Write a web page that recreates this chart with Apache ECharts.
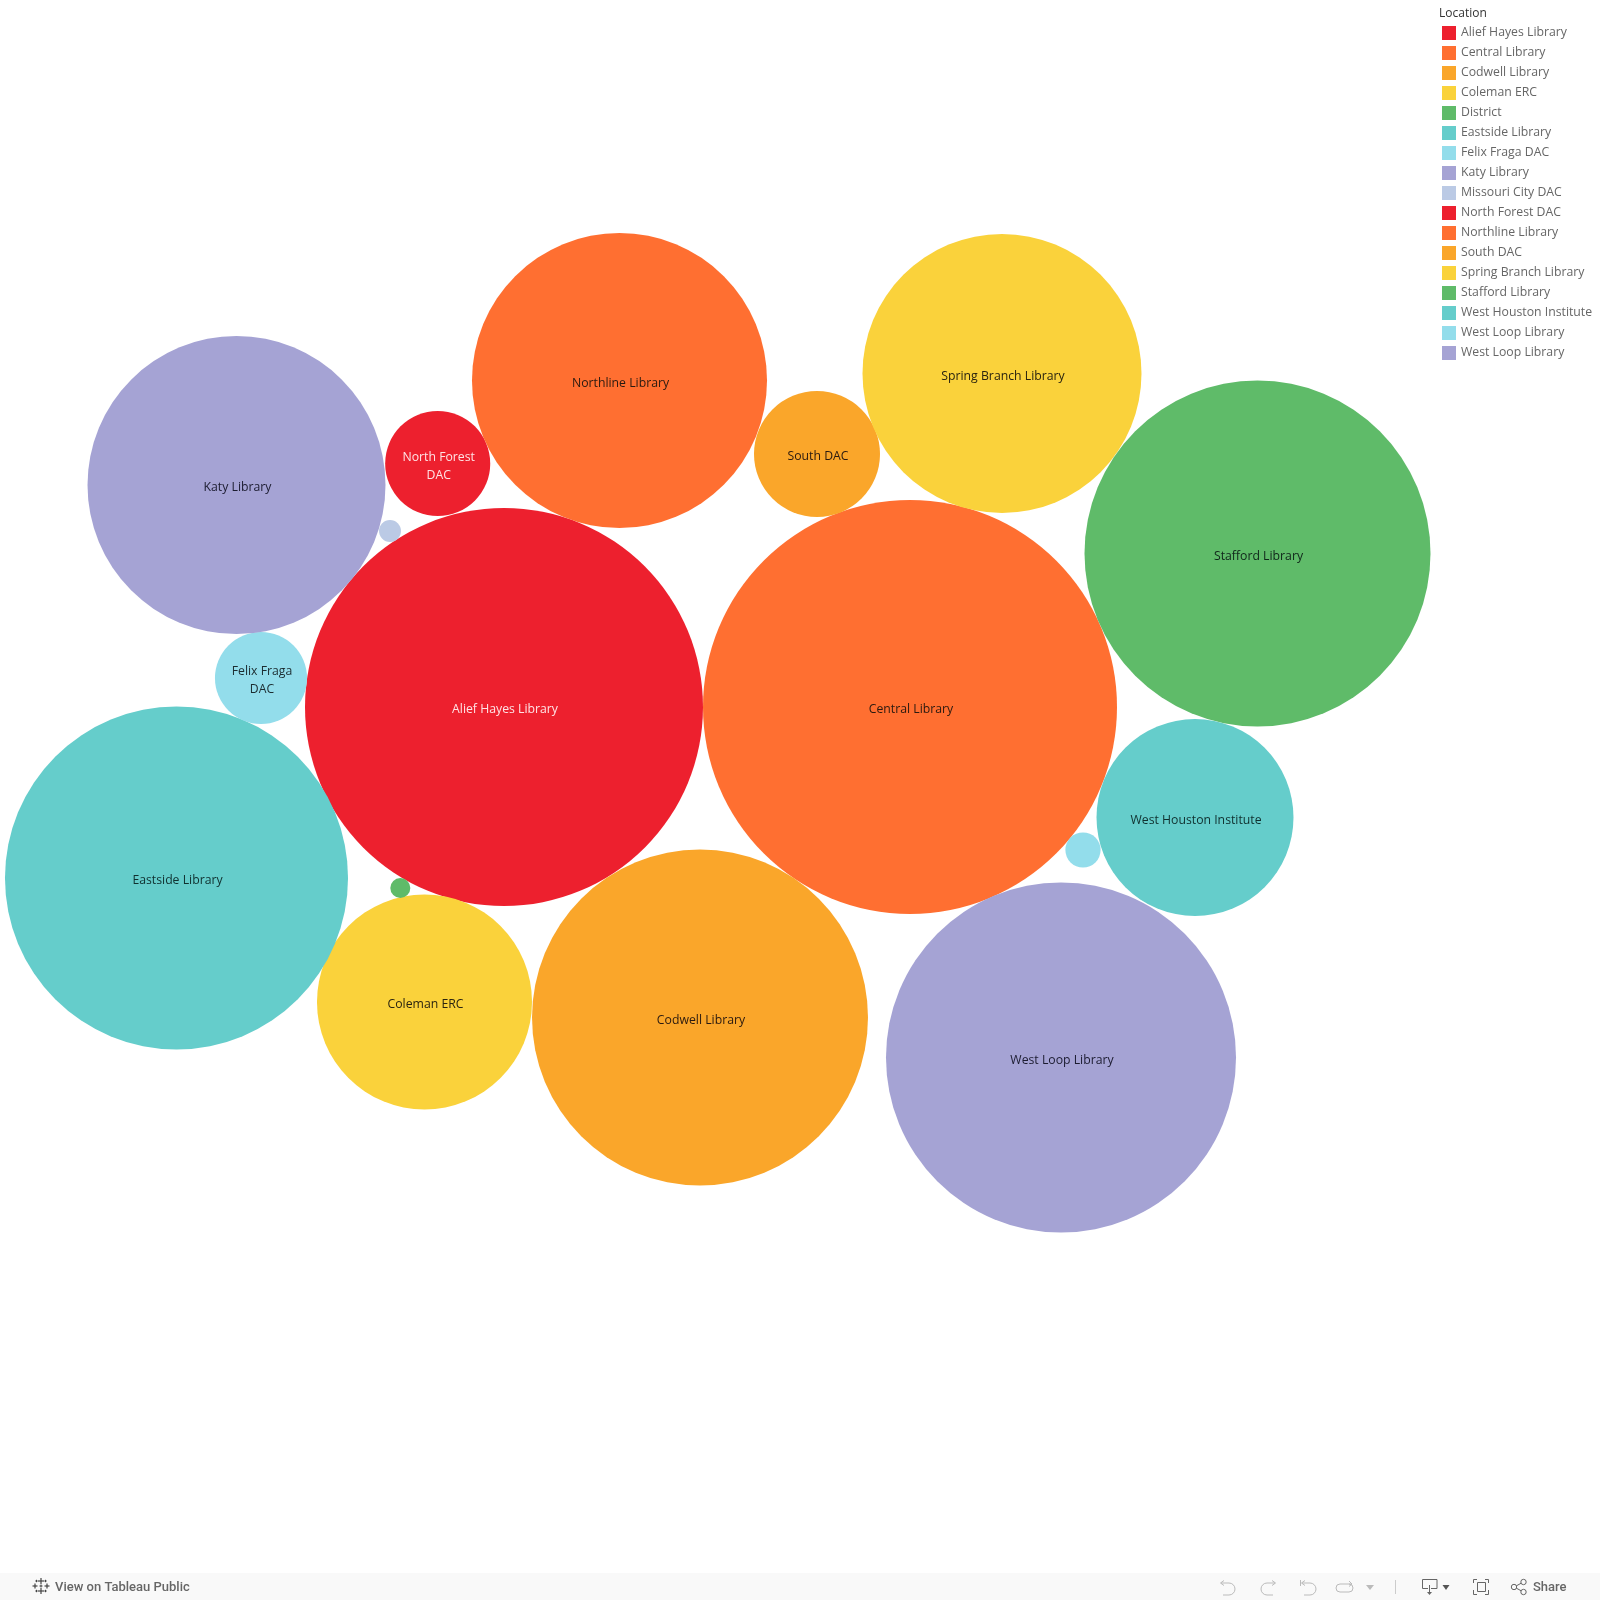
<!DOCTYPE html>
<html>
<head>
<meta charset="utf-8">
<style>html,body{margin:0;padding:0;background:#fff}#c{width:1600px;height:1600px}</style>
<script src="https://cdn.jsdelivr.net/npm/echarts@6/dist/echarts.min.js"></script>
</head>
<body>
<div id="c"></div>
<script>
const locations = ['Alief Hayes Library','Central Library','Codwell Library','Coleman ERC','District','Eastside Library','Felix Fraga DAC','Katy Library','Missouri City DAC','North Forest DAC','Northline Library','South DAC','Spring Branch Library','Stafford Library','West Houston Institute','West Loop Library','West Loop Library'];
const bubbleLabels = ['Alief Hayes Library','Central Library','Codwell Library','Coleman ERC','','Eastside Library','Felix Fraga\nDAC','Katy Library','','North Forest\nDAC','Northline Library','South DAC','Spring Branch Library','Stafford Library','West Houston Institute','','West Loop Library'];
const bubbleValues = [3960,4285,2822,1156,10,2942,212,2220,12,276,2176,397,1946,2993,970,31,3063];
const packX = [504,910,700,424.5,400.3,176.5,261,236.5,390,437.7,619.5,817,1002,1257.5,1195,1083,1061];
const packY = [707,707,1017.5,1002,888,878,678,485,531,463.5,380.5,454,373.5,553.5,817.5,850,1057.5];
const colors = ['#ED202E','#FF6F31','#FAA62A','#FAD23B','#5FBB69','#65CDCB','#93DDEB','#A5A3D4','#BBCAE5','#ED202E','#FF6F31','#FAA62A','#FAD23B','#5FBB69','#65CDCB','#93DDEB','#A5A3D4'];
const labelColors = ['#FFE3E5','#2a1a10','#2a1a10','#2a2410','#222','#10302f','#1c2c30','#1c1c30','#222','#FFE3E5','#2a1a10','#2a1a10','#2a2410','#10261a','#10302f','#222','#1c1c30'];
const FONT = '"Open Sans", sans-serif';

const series = locations.map((name, i) => ({
  type: 'scatter',
  name,
  silent: true,
  animation: false,
  symbol: 'circle',
  symbolSize: v => 2 * Math.sqrt(v[2] * 10),
  itemStyle: { color: colors[i], opacity: 1 },
  label: {
    show: bubbleLabels[i] !== '',
    position: 'inside',
    offset: [1, 3],
    formatter: () => bubbleLabels[i],
    color: labelColors[i],
    fontFamily: FONT,
    fontSize: 12.25,
    lineHeight: 18
  },
  data: [[packX[i], packY[i], bubbleValues[i]]]
}));

const lightGray = '#bbb';
const darkGray = '#666';
const line = (points, stroke, w) => ({ type: 'polyline', silent: true, shape: { points }, style: { fill: null, stroke, lineWidth: w || 1 } });
const tri = (points, fill) => ({ type: 'polygon', silent: true, shape: { points }, style: { fill } });
const arc = (cx, cy, r, a0, a1, stroke) => ({ type: 'arc', silent: true, shape: { cx, cy, r, startAngle: a0, endAngle: a1, clockwise: true }, style: { fill: null, stroke, lineWidth: 1 } });
const circ = (cx, cy, r, stroke) => ({ type: 'circle', silent: true, shape: { cx, cy, r }, style: { fill: null, stroke, lineWidth: 1 } });
const HALF = Math.PI / 2;
const plusMark = (x, y, s, w) => [line([[x, y - s], [x, y + s]], '#444', w), line([[x - s, y], [x + s, y]], '#444', w)];
const undoIcon = dx => [
  line([[1221 + dx, 1583], [1229 + dx, 1583]], lightGray),
  arc(1229 + dx, 1589, 6, -HALF, HALF, lightGray),
  line([[1229 + dx, 1595], [1223 + dx, 1595]], lightGray),
  line([[1224 + dx, 1580.5], [1220.5 + dx, 1583], [1224 + dx, 1585.5]], lightGray)
];
const legendText = { fontFamily: FONT, fontSize: 12.25, color: '#666', padding: [2, 0, 0, 0] };

const chart = echarts.init(document.getElementById('c'), null, { renderer: 'canvas' });
chart.setOption({
  animation: false,
  backgroundColor: '#fff',
  grid: { left: 0, right: 0, top: 0, bottom: 0 },
  xAxis: { type: 'value', min: 0, max: 1600, show: false },
  yAxis: { type: 'value', min: 0, max: 1600, inverse: true, show: false },
  tooltip: { show: false },
  title: {
    text: 'Location', left: 1439, top: 8, padding: 0,
    textStyle: { fontFamily: FONT, fontSize: 12, fontWeight: 'normal', color: '#333' }
  },
  legend: [
    {
      left: 1442, top: 26, orient: 'vertical', padding: 0, icon: 'rect',
      itemWidth: 14, itemHeight: 14, itemGap: 6, selectedMode: false,
      textStyle: legendText,
      data: locations.slice(0, 16).map((name, i) => ({ name, itemStyle: { color: colors[i] } }))
    },
    {
      left: 1442, top: 346, orient: 'vertical', padding: 0, icon: 'rect',
      itemWidth: 14, itemHeight: 14, selectedMode: false,
      textStyle: legendText,
      data: [{ name: locations[16], itemStyle: { color: colors[16] } }]
    }
  ],
  graphic: { elements: [
    { type: 'rect', silent: true, z: -1, shape: { x: 0, y: 1573, width: 1600, height: 27 }, style: { fill: '#F9F9F9' } },
    ...plusMark(41, 1581, 3, 1.2), ...plusMark(41, 1591, 3, 1.2),
    ...plusMark(35, 1586, 2.5, 1.2), ...plusMark(47, 1586, 2.5, 1.2),
    ...plusMark(41, 1586, 1.5, 1), ...plusMark(36.5, 1581, 1.2, 1), ...plusMark(45.5, 1581, 1.2, 1),
    ...plusMark(36.5, 1591, 1.2, 1), ...plusMark(45.5, 1591, 1.2, 1),
    { type: 'text', silent: true, style: { x: 55, y: 1587.5, text: 'View on Tableau Public', fill: '#666', font: '500 13px Roboto, sans-serif', verticalAlign: 'middle' } },
    { type: 'text', silent: true, style: { x: 1533, y: 1587.5, text: 'Share', fill: '#666', font: '500 13px Roboto, sans-serif', verticalAlign: 'middle' } },
    ...undoIcon(0),
    // redo
    line([[1275, 1583], [1267, 1583]], lightGray),
    arc(1267, 1589, 6, HALF, 3 * HALF, lightGray),
    line([[1267, 1595], [1273, 1595]], lightGray),
    line([[1272, 1580.5], [1275.5, 1583], [1272, 1585.5]], lightGray),
    // revert
    ...undoIcon(81),
    line([[1300.5, 1580], [1300.5, 1586]], lightGray),
    // forward
    line([[1351, 1584], [1340, 1584]], lightGray),
    arc(1340, 1588, 4, HALF, 3 * HALF, lightGray),
    line([[1340, 1592], [1349, 1592]], lightGray),
    arc(1349, 1588, 4, -HALF, HALF, lightGray),
    line([[1349, 1581], [1352, 1584], [1349, 1586.5]], lightGray),
    tri([[1366, 1585], [1374, 1585], [1370, 1590]], lightGray),
    line([[1395.5, 1580], [1395.5, 1594]], '#ccc'),
    // download
    line([[1428, 1588.5], [1422.5, 1588.5], [1422.5, 1579.5], [1437, 1579.5], [1437, 1588.5], [1431, 1588.5]], darkGray),
    line([[1429.5, 1585], [1429.5, 1593]], darkGray),
    tri([[1427, 1592], [1432, 1592], [1429.5, 1595]], darkGray),
    tri([[1442.5, 1585], [1449.5, 1585], [1446, 1590]], '#555'),
    // fullscreen
    line([[1473.5, 1583], [1473.5, 1579.5], [1477, 1579.5]], darkGray),
    line([[1485, 1579.5], [1488.5, 1579.5], [1488.5, 1583]], darkGray),
    line([[1488.5, 1590], [1488.5, 1594.5], [1485, 1594.5]], darkGray),
    line([[1477, 1594.5], [1473.5, 1594.5], [1473.5, 1590]], darkGray),
    line([[1477.5, 1582.5], [1485.5, 1582.5], [1485.5, 1591.5], [1477.5, 1591.5], [1477.5, 1582.5]], darkGray),
    // share
    circ(1514, 1587, 2.7, darkGray), circ(1523.5, 1582, 2.7, darkGray), circ(1523.5, 1592, 2.7, darkGray),
    line([[1516.4, 1585.8], [1521.2, 1583.2]], darkGray),
    line([[1516.4, 1588.2], [1521.2, 1590.8]], darkGray)
  ] },
  series
});
</script>
</body>
</html>
